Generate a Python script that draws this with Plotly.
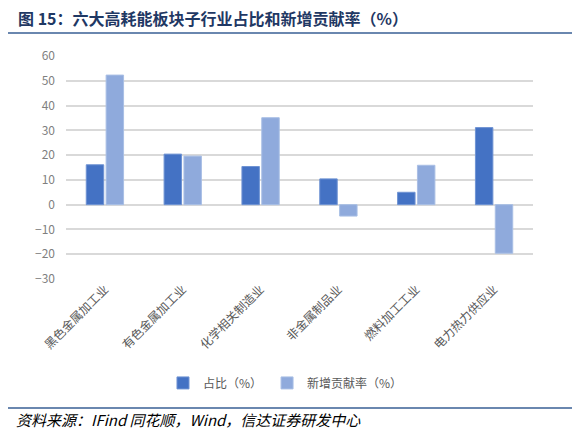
import plotly.graph_objects as go

# sub-industries of the six energy-intensive sectors
categories = ["黑色金属加工业", "有色金属加工业", "化学相关制造业",
              "非金属制品业", "燃料加工工业", "电力热力供应业"]
share = [16.1, 20.4, 15.4, 10.4, 5.0, 31.1]
contribution = [52.3, 19.6, 35.1, -4.6, 15.9, -19.6]
y_ticks = [60, 50, 40, 30, 20, 10, 0, -10, -20, -30]

FONT = "Noto Sans CJK SC, Noto Sans, sans-serif"

fig = go.Figure()

# share of sector (%)
fig.add_trace(go.Bar(
    x=categories, y=share, name="占比（%）",
    marker=dict(color="#4472C4", line=dict(color="#6F93D3", width=1)),
))

# contribution to new increase (%)
fig.add_trace(go.Bar(
    x=categories, y=contribution, name="新增贡献率（%）",
    marker=dict(color="#8FAADC", line=dict(color="#A9BFE5", width=1)),
))

# the page body adds an 8px offset, so everything is placed 8px up/left
fig.update_layout(
    width=580, height=435,
    margin=dict(l=58, r=55, t=48, b=164),
    paper_bgcolor="white", plot_bgcolor="white",
    font=dict(family=FONT, color="#595959", size=12),
    barmode="group", bargap=0.49, bargroupgap=0.12,
    showlegend=True,
    legend=dict(orientation="h", x=0.47, xanchor="center", y=-0.466, yanchor="middle",
                font=dict(size=12, color="#595959"), itemwidth=30,
                traceorder="normal"),
    xaxis=dict(tickangle=-45, showgrid=False, showline=False, ticks="",
               tickfont=dict(size=12, color="#595959")),
    yaxis=dict(range=[-30, 60], tickvals=y_ticks, showgrid=True,
               gridcolor="#D9D9D9", gridwidth=1.5, zeroline=True,
               zerolinecolor="#D9D9D9", zerolinewidth=1.5, showline=False,
               ticks="", ticklabelstandoff=10,
               tickfont=dict(size=12, color="#7F7F7F")),
)

# title and its rule
fig.add_annotation(
    text="<b>图 15：六大高耗能板块子行业占比和新增贡献率（%）</b>",
    xref="paper", yref="paper", x=-0.107, y=1.17, xanchor="left", yanchor="middle",
    showarrow=False, font=dict(size=16, color="#1F3864", family=FONT),
)
fig.add_shape(type="line", xref="paper", yref="paper",
              x0=-0.131, x1=1.09, y0=1.103, y1=1.103,
              line=dict(color="#6A87AF", width=2))

# source rule and note
fig.add_shape(type="line", xref="paper", yref="paper",
              x0=-0.131, x1=1.09, y0=-0.578, y1=-0.578,
              line=dict(color="#6A87AF", width=2))
fig.add_annotation(
    text="<i>资料来源：IFind 同花顺，Wind，信达证券研发中心</i>",
    xref="paper", yref="paper", x=-0.111, y=-0.632, xanchor="left", yanchor="middle",
    showarrow=False, font=dict(size=15, color="#000000", family=FONT),
)

fig.write_html("out.html")
